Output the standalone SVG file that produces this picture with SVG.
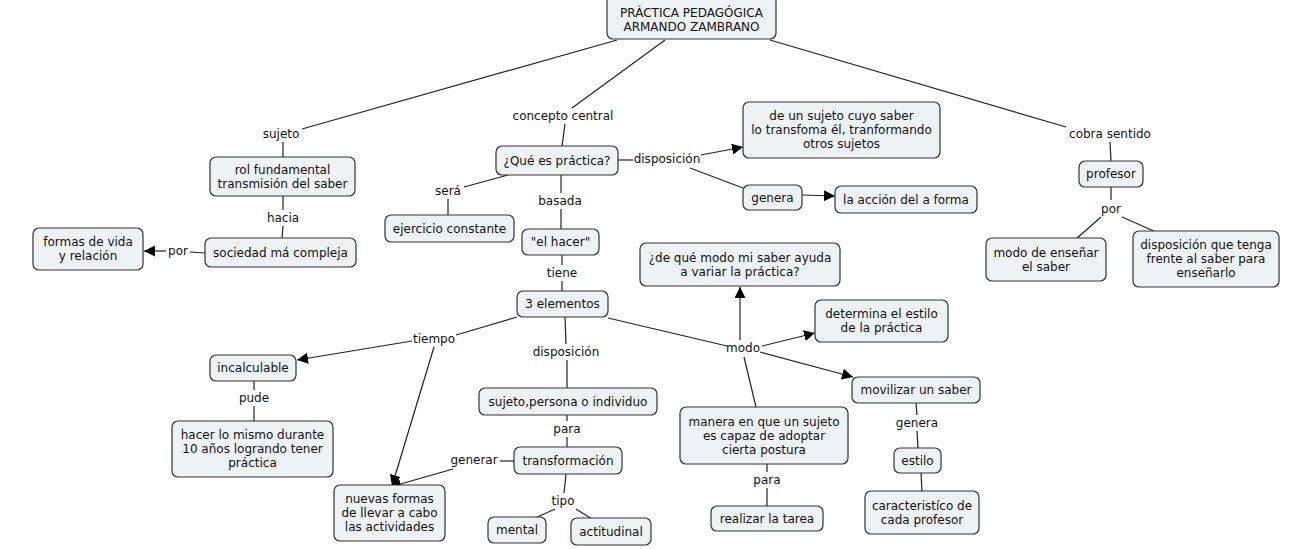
<svg xmlns="http://www.w3.org/2000/svg" width="1301" height="549" viewBox="0 0 1301 549">
<defs>
<style>
.n rect{fill:#eef3f5;stroke:#333;stroke-width:1.2}
text{font-family:"DejaVu Sans",Verdana,sans-serif;font-size:12px;fill:#111;text-anchor:middle}
.c line{stroke:#222;stroke-width:1.2}
</style>
<marker id="ah" viewBox="0 0 10 10" refX="10" refY="5" markerWidth="11" markerHeight="11" markerUnits="userSpaceOnUse" orient="auto">
<path d="M0,0 L10,5 L0,10 z" fill="#000"/>
</marker>
</defs>
<rect width="1301" height="549" fill="#fff"/>
<g class="c" id="connectors">
<line x1="617" y1="40" x2="302" y2="129"/>
<line x1="283" y1="142" x2="283" y2="157"/>
<line x1="283" y1="196" x2="283" y2="210"/>
<line x1="283" y1="226" x2="282" y2="238"/>
<line x1="205" y1="253" x2="190" y2="252"/>
<line x1="166" y1="251" x2="144" y2="251" marker-end="url(#ah)"/>
<line x1="665" y1="40" x2="572" y2="108"/>
<line x1="565" y1="124" x2="562" y2="146"/>
<line x1="618" y1="160" x2="633" y2="160"/>
<line x1="701" y1="155" x2="743" y2="147" marker-end="url(#ah)"/>
<line x1="690" y1="168" x2="743" y2="188"/>
<line x1="802" y1="195" x2="835" y2="196" marker-end="url(#ah)"/>
<line x1="508" y1="175" x2="464" y2="187"/>
<line x1="448" y1="199" x2="448" y2="215"/>
<line x1="561" y1="175" x2="561" y2="193"/>
<line x1="561" y1="209" x2="561" y2="229"/>
<line x1="562" y1="255" x2="562" y2="265"/>
<line x1="562" y1="281" x2="562" y2="291"/>
<line x1="517" y1="317" x2="456" y2="335"/>
<line x1="412" y1="341" x2="297" y2="360" marker-end="url(#ah)"/>
<line x1="434" y1="347" x2="392" y2="486" marker-end="url(#ah)"/>
<line x1="565" y1="317" x2="566" y2="344"/>
<line x1="567" y1="360" x2="567" y2="388"/>
<line x1="254" y1="381" x2="254" y2="390"/>
<line x1="254" y1="406" x2="254" y2="421"/>
<line x1="567" y1="415" x2="567" y2="421"/>
<line x1="567" y1="437" x2="567" y2="447"/>
<line x1="514" y1="461" x2="500" y2="461"/>
<line x1="453" y1="469" x2="390" y2="487" marker-end="url(#ah)"/>
<line x1="566" y1="474" x2="564" y2="493"/>
<line x1="555" y1="509" x2="533" y2="519"/>
<line x1="576" y1="509" x2="592" y2="519"/>
<line x1="608" y1="318" x2="727" y2="346"/>
<line x1="740" y1="340" x2="740" y2="287" marker-end="url(#ah)"/>
<line x1="762" y1="346" x2="815" y2="333" marker-end="url(#ah)"/>
<line x1="760" y1="352" x2="853" y2="377" marker-end="url(#ah)"/>
<line x1="756" y1="407" x2="744" y2="357"/>
<line x1="767" y1="464" x2="767" y2="472"/>
<line x1="767" y1="488" x2="767" y2="506"/>
<line x1="916" y1="403" x2="917" y2="415"/>
<line x1="917" y1="431" x2="918" y2="448"/>
<line x1="921" y1="473" x2="922" y2="491"/>
<line x1="770" y1="40" x2="1066" y2="127"/>
<line x1="1110" y1="142" x2="1111" y2="161"/>
<line x1="1111" y1="187" x2="1111" y2="200"/>
<line x1="1101" y1="217" x2="1075" y2="240"/>
<line x1="1122" y1="217" x2="1156" y2="232"/>
</g>
<g id="labels">
<text x="281" y="138">sujeto</text>
<text x="283" y="222">hacia</text>
<text x="178" y="255">por</text>
<text x="563" y="120">concepto central</text>
<text x="667" y="163">disposición</text>
<text x="448" y="195">será</text>
<text x="560" y="205">basada</text>
<text x="562" y="277">tiene</text>
<text x="434" y="343">tiempo</text>
<text x="254" y="402">pude</text>
<text x="566" y="356">disposición</text>
<text x="567" y="433">para</text>
<text x="474" y="464">generar</text>
<text x="563" y="505">tipo</text>
<text x="743" y="352">modo</text>
<text x="767" y="484">para</text>
<text x="917" y="427">genera</text>
<text x="1110" y="138">cobra sentido</text>
<text x="1111" y="213">por</text>
</g>
<g class="n" id="n-root"><rect x="607" y="-5" width="169" height="44" rx="6"/><text x="691.5" y="17">PRÁCTICA PEDAGÓGICA<tspan x="691.5" dy="14">ARMANDO ZAMBRANO</tspan></text></g>
<g class="n" id="n-rol"><rect x="210" y="157" width="145" height="39" rx="6"/><text x="282.5" y="174">rol fundamental<tspan x="282.5" dy="14">transmisión del saber</tspan></text></g>
<g class="n" id="n-sociedad"><rect x="205" y="238" width="151" height="29" rx="6"/><text x="280.5" y="257">sociedad má compleja</text></g>
<g class="n" id="n-formas"><rect x="33" y="228" width="110" height="42" rx="6"/><text x="88" y="246">formas de vida<tspan x="88" dy="14">y relación</tspan></text></g>
<g class="n" id="n-que"><rect x="496" y="146" width="122" height="29" rx="6"/><text x="557" y="165">¿Qué es práctica?</text></g>
<g class="n" id="n-desujeto"><rect x="743" y="102" width="197" height="56" rx="6"/><text x="841.5" y="120">de un sujeto cuyo saber<tspan x="841.5" dy="14">lo transfoma él, tranformando</tspan><tspan x="841.5" dy="14">otros sujetos</tspan></text></g>
<g class="n" id="n-genera"><rect x="743" y="185" width="59" height="25" rx="6"/><text x="772.5" y="201.5">genera</text></g>
<g class="n" id="n-accion"><rect x="835" y="186" width="142" height="27" rx="6"/><text x="906" y="203.5">la acción del a forma</text></g>
<g class="n" id="n-ejercicio"><rect x="385" y="215" width="129" height="27" rx="6"/><text x="449.5" y="232.5">ejercicio constante</text></g>
<g class="n" id="n-hacer"><rect x="522" y="229" width="77" height="26" rx="6"/><text x="560.5" y="246">"el hacer"</text></g>
<g class="n" id="n-3el"><rect x="517" y="291" width="91" height="26" rx="6"/><text x="562.5" y="308">3 elementos</text></g>
<g class="n" id="n-incalc"><rect x="210" y="355" width="86" height="26" rx="6"/><text x="253" y="372">incalculable</text></g>
<g class="n" id="n-mismo"><rect x="172" y="421" width="161" height="56" rx="6"/><text x="252.5" y="439">hacer lo mismo durante<tspan x="252.5" dy="14">10 años logrando tener</tspan><tspan x="252.5" dy="14">práctica</tspan></text></g>
<g class="n" id="n-sujper"><rect x="479" y="388" width="178" height="27" rx="6"/><text x="568" y="405.5">sujeto,persona o individuo</text></g>
<g class="n" id="n-transf"><rect x="514" y="447" width="108" height="27" rx="6"/><text x="568" y="464.5">transformación</text></g>
<g class="n" id="n-nuevas"><rect x="334" y="485" width="111" height="56" rx="6"/><text x="389.5" y="503">nuevas formas<tspan x="389.5" dy="14">de llevar a cabo</tspan><tspan x="389.5" dy="14">las actividades</tspan></text></g>
<g class="n" id="n-mental"><rect x="488" y="517" width="58" height="26" rx="6"/><text x="517" y="534">mental</text></g>
<g class="n" id="n-actit"><rect x="571" y="518" width="80" height="27" rx="6"/><text x="611" y="535.5">actitudinal</text></g>
<g class="n" id="n-dequemodo"><rect x="640" y="243" width="200" height="43" rx="6"/><text x="740" y="261.5">¿de qué modo mi saber ayuda<tspan x="740" dy="14">a variar la práctica?</tspan></text></g>
<g class="n" id="n-determina"><rect x="815" y="300" width="133" height="42" rx="6"/><text x="881.5" y="318">determina el estilo<tspan x="881.5" dy="14">de la práctica</tspan></text></g>
<g class="n" id="n-movilizar"><rect x="852" y="377" width="128" height="26" rx="6"/><text x="916" y="394">movilizar un saber</text></g>
<g class="n" id="n-manera"><rect x="680" y="407" width="168" height="57" rx="6"/><text x="764" y="425.5">manera en que un sujeto<tspan x="764" dy="14">es capaz de adoptar</tspan><tspan x="764" dy="14">cierta postura</tspan></text></g>
<g class="n" id="n-realizar"><rect x="711" y="506" width="112" height="25" rx="6"/><text x="767" y="522.5">realizar la tarea</text></g>
<g class="n" id="n-estilo"><rect x="894" y="448" width="47" height="25" rx="6"/><text x="917.5" y="464.5">estilo</text></g>
<g class="n" id="n-caract"><rect x="865" y="491" width="114" height="43" rx="6"/><text x="922" y="509.5">caracteristíco de<tspan x="922" dy="14">cada profesor</tspan></text></g>
<g class="n" id="n-profesor"><rect x="1079" y="161" width="64" height="26" rx="6"/><text x="1111" y="178">profesor</text></g>
<g class="n" id="n-modoens"><rect x="986" y="238" width="120" height="43" rx="6"/><text x="1046" y="256.5">modo de enseñar<tspan x="1046" dy="14">el saber</tspan></text></g>
<g class="n" id="n-dispque"><rect x="1133" y="231" width="146" height="56" rx="6"/><text x="1206" y="249">disposición que tenga<tspan x="1206" dy="14">frente al saber para</tspan><tspan x="1206" dy="14">enseñarlo</tspan></text></g>
</svg>
